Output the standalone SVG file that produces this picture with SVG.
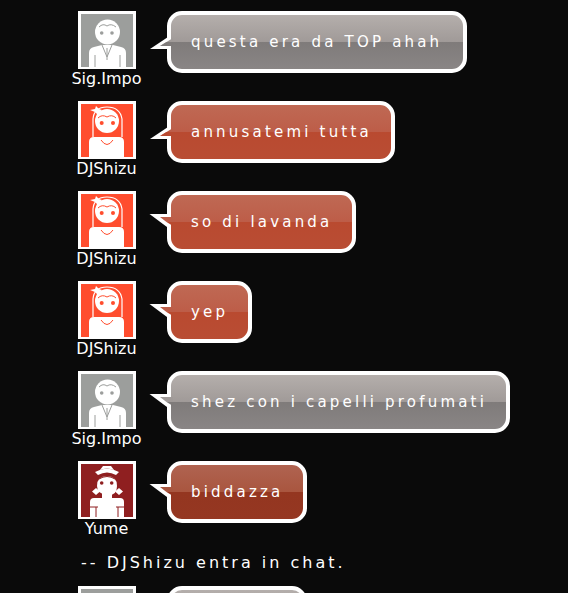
<svg xmlns="http://www.w3.org/2000/svg" xmlns:xlink="http://www.w3.org/1999/xlink" width="568" height="593" viewBox="0 0 568 593">
<style>
.m{font-family:"DejaVu Sans",sans-serif;font-size:15px;letter-spacing:3.2px;fill:#fff}
.y{font-size:16px;letter-spacing:3px}
.n{font-family:"DejaVu Sans",sans-serif;font-size:16px;fill:#fff;text-anchor:middle}
.s{stroke:#fff;stroke-width:4}
.w{fill:#fff}
</style>
<defs>
<linearGradient id="gg" x1="0" y1="0" x2="0" y2="1"><stop offset="0" stop-color="#b6b0ad"/><stop offset=".5" stop-color="#a09a98"/><stop offset=".5" stop-color="#7f7b7a"/><stop offset="1" stop-color="#8a8686"/></linearGradient>
<linearGradient id="gr" x1="0" y1="0" x2="0" y2="1"><stop offset="0" stop-color="#bf6a55"/><stop offset=".5" stop-color="#bd5d48"/><stop offset=".5" stop-color="#b94a30"/><stop offset="1" stop-color="#b94d34"/></linearGradient>
<linearGradient id="gd" x1="0" y1="0" x2="0" y2="1"><stop offset="0" stop-color="#b06452"/><stop offset=".5" stop-color="#a9563f"/><stop offset=".5" stop-color="#943620"/><stop offset="1" stop-color="#953722"/></linearGradient>
<g id="man">
<rect x="78" y="11" width="58" height="58" fill="#fff"/><rect x="81" y="14" width="52" height="53" fill="#9c9e9c"/>
<circle cx="107.500" cy="32" r="12.500" class="w"/>
<path d="M89 67V53q0-5 5-6l8-2h11l8 2q5 1 5 6v14z" class="w"/>
<path d="M102 45l5 12 5-12M107 48v12M95 55v12M120 55v12M99 27q4-4 8-1 4-3 9 1" fill="none" stroke="#9c9e9c" stroke-width="1"/>
<circle cx="101.700" cy="33" r="1.800" fill="#9c9e9c"/><circle cx="112" cy="33" r="1.800" fill="#9c9e9c"/>
</g>
<g id="girl">
<rect x="78" y="11" width="58" height="58" fill="#fff"/><rect x="81" y="14" width="52" height="53" fill="#ff4d2e"/>
<path d="M93 47V29q1-12 14-12t15 12v18" fill="none" stroke="#fff" stroke-width="1.200"/>
<path d="M90 20l5-1 1-3 3 3 3 1-3 3-1 2-3-3z" class="w"/>
<circle cx="107" cy="31" r="12" class="w"/>
<path d="M89 67V52q0-5 5-5h25q5 0 5 5v15z" class="w"/>
<path d="M101 50q6 9 12 0M98 28q4-4 9-1 5-3 9 1" fill="none" stroke="#ff4d2e" stroke-width="1"/>
<circle cx="101.700" cy="33" r="2" fill="#ff4d2e"/><circle cx="113" cy="33" r="2" fill="#ff4d2e"/>
</g>
<g id="yume">
<rect x="78" y="11" width="58" height="58" fill="#fff"/><rect x="81" y="14" width="52" height="53" fill="#8f1f20"/>
<path d="M95 22q12-7 24 0l-3 3q-9-5-18 0z" class="w"/>
<path d="M100 20l3-4h8l3 4q-7-3-14 0z" class="w"/>
<path d="M97 36q0-10 10-10t10 10-10 9-10-9z" class="w"/>
<path d="M92 41.500l4-3.500 4 3.500-4 3.500zM123 41.500l-4-3.500-4 3.500 4 3.500z" class="w"/>
<rect x="102" y="43" width="10" height="5" class="w"/>
<path d="M90 67V52q0-4 4-4h26q4 0 4 4v15z" class="w"/>
<path d="M90 57h8M116 57h8M96 57v10M118 57v10M99 29q8-5 16 0" fill="none" stroke="#8f1f20" stroke-width="1"/>
<circle cx="101.700" cy="33" r="1.800" fill="#8f1f20"/><circle cx="111.700" cy="33" r="1.800" fill="#8f1f20"/>
</g>
<path id="tu" d="M150 49L171 35V49z" class="w"/>
<path id="td" d="M149.500 34H171V50z" class="w"/>
</defs>
<rect width="568" height="593" fill="#0a0a0a"/>
<g id="connectors"></g>
<g id="n1"><use xlink:href="#man"/><text class="n" x="106.500" y="84">Sig.Impo</text>
<use xlink:href="#tu"/><rect x="169" y="13" width="296" height="58" rx="13" fill="url(#gg)" class="s"/>
<path d="M160 46l13-8v4z" fill="#a09a98"/><path d="M160 46l6.500-4H173v4z" fill="#7f7b7a"/><text class="m" x="191" y="47">questa era da TOP ahah</text></g>
<g id="n2"><use xlink:href="#girl" y="90"/><text class="n" x="106.500" y="174">DJShizu</text>
<use xlink:href="#tu" y="90"/><rect x="169" y="103" width="224" height="58" rx="13" fill="url(#gr)" class="s"/>
<path d="M160 136l13-8v4z" fill="#bd5d48"/><path d="M160 136l6.500-4H173v4z" fill="#b94a30"/><text class="m" x="191" y="137">annusatemi tutta</text></g>
<g id="n3"><use xlink:href="#girl" y="180"/><text class="n" x="106.500" y="264">DJShizu</text>
<use xlink:href="#td" y="180"/><rect x="169" y="193" width="185" height="58" rx="13" fill="url(#gr)" class="s"/>
<path d="M160 217h13v5h-6.500z" fill="#bd5d48"/><path d="M166.500 222H173v4z" fill="#b94a30"/><text class="m" x="191" y="227">so di lavanda</text></g>
<g id="n4"><use xlink:href="#girl" y="270"/><text class="n" x="106.500" y="354">DJShizu</text>
<use xlink:href="#td" y="270"/><rect x="169" y="283" width="81" height="58" rx="13" fill="url(#gr)" class="s"/>
<path d="M160 307h13v5h-6.500z" fill="#bd5d48"/><path d="M166.500 312H173v4z" fill="#b94a30"/><text class="m" x="191" y="317">yep</text></g>
<g id="n5"><use xlink:href="#man" y="360"/><text class="n" x="106.500" y="444">Sig.Impo</text>
<use xlink:href="#td" y="360"/><rect x="169" y="373" width="339" height="58" rx="13" fill="url(#gg)" class="s"/>
<path d="M160 397h13v5h-6.500z" fill="#a09a98"/><path d="M166.500 402H173v4z" fill="#7f7b7a"/><text class="m" x="191" y="407">shez con i capelli profumati</text></g>
<g id="n6"><use xlink:href="#yume" y="450"/><text class="n" x="106.500" y="534">Yume</text>
<use xlink:href="#td" y="450"/><rect x="169" y="463" width="136" height="58" rx="13" fill="url(#gd)" class="s"/>
<path d="M160 487h13v5h-6.500z" fill="#a9563f"/><path d="M166.500 492H173v4z" fill="#943620"/><text class="m" x="191" y="497">biddazza</text></g>
<text id="sys" class="m y" x="81" y="568">-- DJShizu entra in chat.</text>
<g id="n7"><use xlink:href="#man" y="575"/>
<rect x="169" y="588" width="136" height="58" rx="13" fill="url(#gg)" class="s"/></g>
</svg>
